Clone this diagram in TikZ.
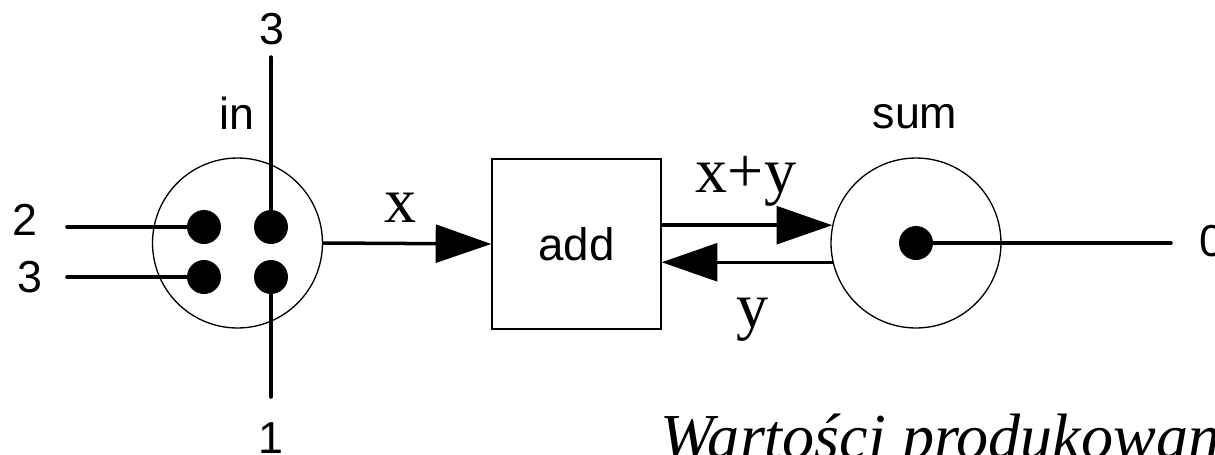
\documentclass[tikz,border=0pt]{standalone}
\usepackage{fontspec}
\setmainfont{Liberation Serif}
\newfontfamily\labelsans{Liberation Sans}
\usetikzlibrary{arrows.meta}
\begin{document}
\begin{tikzpicture}[x=0.02cm,y=-0.02cm,
  wire/.style={line width=2pt, line cap=round},
  flow/.style={line width=2pt, -{Triangle[length=31.7pt,width=21.5pt]}},
  ring/.style={circle, draw, line width=0.75pt, minimum size=3.4cm, inner sep=0pt},
  plug/.style={circle, fill=black, minimum size=0.68cm, inner sep=0pt},
  port/.style={font=\labelsans\fontsize{25.5}{30}\selectfont, inner sep=0pt},
  sig/.style={font=\fontsize{36.5}{42}\selectfont, inner sep=0pt},
]
\useasboundingbox (0,0) rectangle (1215,454);
\clip (0,0) rectangle (1215,454);

% input connector with four pins
\node[ring] (in) at (237.5,243) {};
\node[plug] (p1) at (204,227) {};
\node[plug] (p2) at (271,227) {};
\node[plug] (p3) at (204,277) {};
\node[plug] (p4) at (271,277) {};
\coordinate (w2) at (67,227);
\coordinate (w3) at (67,277);
\coordinate (wt) at (271,57);
\coordinate (wb) at (271,397);
\draw[wire] (w2) -- (p1.center);
\draw[wire] (w3) -- (p3.center);
\draw[wire] (wt) -- (p2.center);
\draw[wire] (p4.center) -- (wb);
\node[port] (l2) at (25,220) {2};
\node[port] (l3) at (29.5,277) {3};
\node[port] (lt) at (271.5,29) {3};
\node[port] (lb) at (271,438) {1};
\node[port] (lin) at (237,113) {in};

% adder block
\node[draw, line width=0.75pt, minimum width=3.38cm, minimum height=3.4cm,
      inner sep=0pt, font=\labelsans\fontsize{26}{30}\selectfont] (add) at (576.5,244) {add};

% accumulator
\node[ring] (sum) at (916,243) {};
\node[plug] (s0) at (916,243) {};
\coordinate (out) at (1171,243);
\draw[wire] (s0.center) -- (out);
\node[port, anchor=west] (l0) at (1199,241) {0};
\node[port] (lsum) at (915,117) {sum};

% signal flow
\draw[flow] (in.east) -- (add.west);
\draw[flow] (add.east |- sum.168.5) -- (sum.168.5);
\draw[flow] (sum.193.6) -- (add.east |- sum.193.6);
\node[sig, anchor=base] (lx) at (401,222) {x};
\node[sig, anchor=base] (lxy) at (746,192) {x+y};
\node[sig, anchor=base] (ly) at (753,327) {y};

% caption
\node[inner sep=0pt, anchor=base west, font=\itshape\fontsize{36.5}{42}\selectfont] (cap) at (660,458) {Wartości produkowane};
\end{tikzpicture}
\end{document}
